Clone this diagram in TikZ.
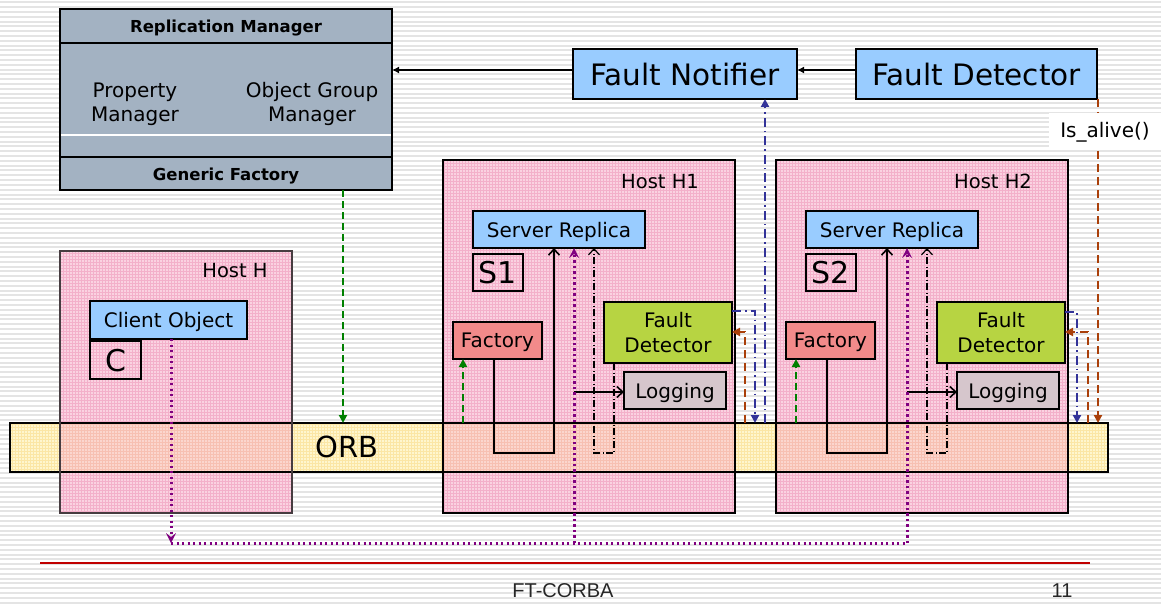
\documentclass[tikz,border=0pt]{standalone}
\usepackage{fontspec}
\setmainfont{DejaVu Sans}
\newfontfamily\footfont{Liberation Sans}
\usetikzlibrary{arrows.meta,patterns}

\definecolor{rmfill}{RGB}{163,178,194}
\definecolor{lblue}{RGB}{153,204,255}
\definecolor{hostpink}{RGB}{250,210,225}
\definecolor{gridpink}{RGB}{243,176,202}
\definecolor{orbyellow}{RGB}{254,246,206}
\definecolor{gridyellow}{RGB}{251,230,165}
\definecolor{orbpink}{RGB}{251,214,206}
\definecolor{gridorbpink}{RGB}{247,192,178}
\definecolor{facred}{RGB}{242,138,138}
\definecolor{fdgreen}{RGB}{183,212,66}
\definecolor{logfill}{RGB}{214,198,204}
\definecolor{okgreen}{RGB}{0,128,0}
\definecolor{plum}{RGB}{128,0,128}
\definecolor{fdblue}{RGB}{51,51,153}
\definecolor{rust}{RGB}{170,64,10}
\definecolor{footred}{RGB}{192,0,0}
\definecolor{stripe}{RGB}{228,228,228}

\tikzset{
  box/.style={draw=black, line width=1.2pt, inner sep=0pt, outer sep=0pt, align=center, text depth=0pt},
  txt/.style={inner sep=0pt, outer sep=0pt, align=center, text depth=0pt},
  big/.style={font=\fontsize{29.5}{34}\selectfont},
  mid/.style={font=\fontsize{20}{24.5}\selectfont},
  hdr/.style={font=\bfseries\fontsize{16.5}{20}\selectfont},
  hostbox/.style={draw=none, fill=hostpink, inner sep=0pt, outer sep=0pt},
  blk/.style={draw=black, line width=1.6pt},
  blkdd/.style={draw=black, line width=1.2pt, dash pattern=on 7pt off 2.5pt on 1pt off 2.5pt},
  greend/.style={draw=okgreen, line width=2pt, dash pattern=on 7pt off 4pt},
  rustd/.style={draw=rust, line width=2.4pt, dash pattern=on 8pt off 5pt},
  bluedd/.style={draw=fdblue, line width=2pt, dash pattern=on 9pt off 4pt on 1.5pt off 4pt},
  purpled/.style={draw=plum, line width=3pt, dash pattern=on 2.4pt off 3.1pt},
  opentip/.style={-{Straight Barb[length=6pt,width=11pt]}},
  filltip/.style={-{Triangle[length=8pt,width=8pt]}},
  smalltip/.style={-{Latex[length=7pt,width=7pt]}},
  purpletip/.style={-{Stealth[length=10pt,width=10pt,inset=4pt,line width=0pt]}},
}

\begin{document}
\begin{tikzpicture}[x=1pt,y=-1pt]
\useasboundingbox (0,0) rectangle (1161,604);

% striped slide background
\fill[white] (0,0) rectangle (1161,604);
\foreach \k in {0,...,125}
  \draw[stripe, line width=2pt] (0,{\k*4.8+2.5}) -- (1161,{\k*4.8+2.5});

% ---- Replication Manager ----
\node[box, fill=rmfill, line width=1.8pt, minimum width=332pt, minimum height=181pt] (rm) at (226,99.5) {};
\coordinate (yA) at (0,43);
\coordinate (yB) at (0,135);
\coordinate (yC) at (0,157);
\draw[line width=1.2pt] (rm.west |- yA) -- (rm.east |- yA);
\draw[white, line width=1.5pt] ([xshift=1pt]rm.west |- yB) -- ([xshift=-1pt]rm.east |- yB);
\draw[line width=1.2pt] (rm.west |- yC) -- (rm.east |- yC);
\node[txt, hdr] (rmtitle) at (226,26) {Replication Manager};
\node[txt, mid] (pm) at (135,102) {Property\\Manager};
\node[txt, mid] (ogm) at (312,102) {Object Group\\Manager};
\node[txt, hdr] (gf) at (226,174) {Generic Factory};

% ---- Fault Notifier / Fault Detector ----
\node[box, fill=lblue, big, minimum width=224pt, minimum height=50pt] (fn) at (685,74) {Fault Notifier};
\node[box, fill=lblue, big, minimum width=241pt, minimum height=50pt] (fdt) at (976.5,74) {Fault Detector};
\coordinate (y70) at (0,70);
\draw[line width=1.6pt, smalltip] (fdt.west |- y70) -- (fn.east |- y70);
\draw[line width=1.6pt, smalltip] (fn.west |- y70) -- (rm.east |- y70);

% ---- host backgrounds ----
\node[hostbox, minimum width=232pt, minimum height=262pt] (hh) at (176,382) {};
\fill[pattern=grid, pattern color=gridpink] (hh.south west) rectangle (hh.north east);
\foreach \h/\d in {1/0,2/333}{
  \begin{scope}[xshift=\d pt]
    \node[hostbox, minimum width=292pt, minimum height=353pt] (host\h) at (589,336.5) {};
    \fill[pattern=grid, pattern color=gridpink] (host\h.south west) rectangle (host\h.north east);
  \end{scope}
}

% ---- ORB ----
\node[draw=none, fill=orbyellow, inner sep=0pt, outer sep=0pt,
      minimum width=1098pt, minimum height=49pt] (orb) at (559,447.5) {};
\fill[pattern=grid, pattern color=gridyellow] (orb.south west) rectangle (orb.north east);
% the band seen through the hosts
\foreach \hb in {hh,host1,host2}{
  \fill[orbpink] (orb.south -| \hb.west) rectangle (orb.north -| \hb.east);
  \fill[pattern=grid, pattern color=gridorbpink] (orb.south -| \hb.west) rectangle (orb.north -| \hb.east);
}
\draw[line width=1.2pt] (orb.south west) rectangle (orb.north east);
\node[txt, font=\fontsize{29}{34}\selectfont] (orbtxt) at (347,447) {ORB};

% host outlines over the ORB band
\draw[draw={rgb,255:red,70;green,60;blue,64}, line width=1.4pt] (hh.south west) rectangle (hh.north east);
\draw[line width=1.5pt] (host1.south west) rectangle (host1.north east);
\draw[line width=1.5pt] (host2.south west) rectangle (host2.north east);

% ---- client host ----
\node[txt, font=\fontsize{19.5}{23}\selectfont] (hhlabel) at (235,270) {Host H};
\node[box, fill=lblue, mid, minimum width=157pt, minimum height=38pt] (co) at (168.5,320) {Client Object};
\node[box, font=\fontsize{30}{34}\selectfont, minimum width=51pt, minimum height=38pt] (cc) at (115.5,360) {C};

% ---- server hosts ----
\foreach \h/\d in {1/0,2/333}{
  \begin{scope}[xshift=\d pt]
    \node[txt, font=\fontsize{19.5}{23}\selectfont] (hlabel\h) at (660,181) {Host H\h};
    \node[box, fill=lblue, mid, minimum width=172pt, minimum height=37pt] (sr\h) at (559,229.5) {Server Replica};
    \node[box, font=\fontsize{30}{34}\selectfont, minimum width=50pt, minimum height=37pt] (s\h) at (498,272.5) {S\h};
    \node[box, fill=facred, mid, minimum width=89pt, minimum height=37pt] (fac\h) at (497.5,340.5) {Factory};
    \node[box, fill=fdgreen, mid, minimum width=128pt, minimum height=61pt] (fd\h) at (668,332.5) {Fault\\Detector};
    \node[box, fill=logfill, mid, minimum width=102pt, minimum height=37pt] (log\h) at (675,390.5) {Logging};
    % factory creates the replica
    \draw[blk, opentip] (fac\h.south -| 494,0) |- (554,453) -- (sr\h.south -| 554,0);
    % fault detector watches the replica
    \draw[blkdd, opentip] (fd\h.south -| 614,0) |- (594,453) -- (sr\h.south -| 594,0);
    % request logging
    \coordinate (lg\h) at (574,392);
    \draw[blk, opentip] (lg\h) -- (log\h.west |- lg\h);
    % generic factory reaches the local factory
    \draw[greend, filltip] (orb.north -| 463,0) -- (fac\h.south -| 463,0);
    % client invocations
    \draw[purpled, purpletip] (574,543) -- (sr\h.south -| 574,0);
  \end{scope}
}

% client request path
\coordinate (bus) at (171,543);
\draw[purpled, purpletip] (co.south -| bus) -- (bus);
\draw[purpled] (bus) -- (907,543);

% generic factory into the ORB
\draw[greend, filltip] (rm.south -| 343,0) -- (orb.north -| 343,0);

% fault reports and liveness checks
\draw[bluedd, filltip] (orb.north -| 765,0) -- (fn.south -| 765,0);
\draw[bluedd, filltip] (fd1.east |- 0,311) -- (755,311) -- (orb.north -| 755,0);
\draw[rustd, filltip] (orb.north -| 745,0) -- (745,332) -- (fd1.east |- 0,332);
\draw[bluedd, filltip] (fd2.east |- 0,312) -- (1077,312) -- (orb.north -| 1077,0);
\draw[rustd, filltip] (orb.north -| 1088,0) -- (1088,332) -- (fd2.east |- 0,332);
\draw[rustd, filltip] (fdt.south -| 1098,0) -- (orb.north -| 1098,0);
\node[fill=white, inner sep=0pt, outer sep=0pt, minimum width=112pt, minimum height=34pt, text depth=0pt,
      font=\fontsize{20}{24}\selectfont] (alive) at (1105,130) {Is\_alive()};

% footer
\draw[footred, line width=1.3pt] (40,563) -- (1090,563);
\node[txt, font=\footfont\fontsize{20}{24}\selectfont, text=black!85] (foot) at (563,591) {FT-CORBA};
\node[txt, font=\footfont\fontsize{20}{24}\selectfont, text=black!85] (pg) at (1062,591) {11};
\end{tikzpicture}
\end{document}
